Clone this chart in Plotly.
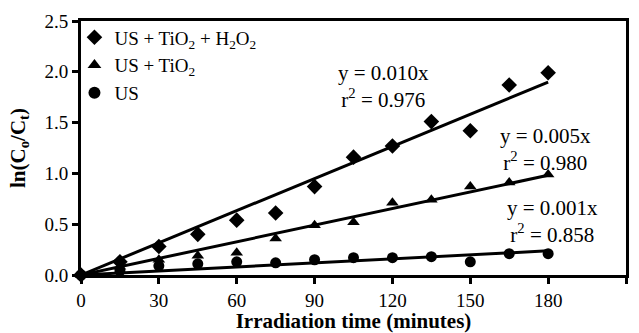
import numpy as np
import plotly.graph_objects as go

time_min = [0, 15, 30, 45, 60, 75, 90, 105, 120, 135, 150, 165, 180]
us_tio2_h2o2 = [0.0, 0.13, 0.28, 0.40, 0.54, 0.61, 0.87, 1.16, 1.27, 1.51, 1.42, 1.87, 1.99]
us_tio2 = [0.0, 0.08, 0.15, 0.19, 0.22, 0.36, 0.49, 0.52, 0.71, 0.74, 0.87, 0.91, 0.99]
us_only = [0.0, 0.04, 0.09, 0.11, 0.13, 0.12, 0.15, 0.17, 0.17, 0.18, 0.13, 0.21, 0.21]

names = ["US + TiO<sub>2</sub> + H<sub>2</sub>O<sub>2</sub>", "US + TiO<sub>2</sub>", "US"]
symbols = ["diamond", "triangle-up", "circle"]
series = [us_tio2_h2o2, us_tio2, us_only]
eq_labels = ["y = 0.010x<br>r<sup>2</sup> = 0.976",
             "y = 0.005x<br>r<sup>2</sup> = 0.980",
             "y = 0.001x<br>r<sup>2</sup> = 0.858"]
label_pos = [(116.5, 1.86), (179, 1.24), (181.5, 0.53)]

FONT = "Liberation Serif"
fig = go.Figure()
x = np.array(time_min, dtype=float)
for name, sym, ys in zip(names, symbols, series):
    y = np.array(ys)
    k = (x * y).sum() / (x * x).sum()
    fig.add_trace(go.Scatter(x=[0, 180], y=[0, k * 180], mode="lines",
                             line=dict(color="black", width=3), showlegend=False,
                             cliponaxis=False))
    fig.add_trace(go.Scatter(x=time_min, y=ys, mode="markers", name=name,
                             marker=dict(symbol=sym, size=11 if sym != "diamond" else 12, color="black"),
                             cliponaxis=False))

for txt, (ax, ay) in zip(eq_labels, label_pos):
    fig.add_annotation(x=ax, y=ay, text=txt, showarrow=False,
                       font=dict(family=FONT, size=21, color="black"), align="center")

axis_common = dict(showline=True, linecolor="black", linewidth=3, mirror=True,
                   ticks="outside", tickcolor="black", tickwidth=2.5, ticklen=6,
                   showgrid=False, zeroline=False, automargin=False,
                   tickfont=dict(family=FONT, size=19, color="black"))
fig.update_xaxes(range=[0, 210], tickvals=list(range(0, 211, 30)),
                 title=dict(text="<b>Irradiation time (minutes)</b>",
                            font=dict(family=FONT, size=21, color="black"), standoff=2),
                 **axis_common)
fig.update_yaxes(range=[0, 2.5], tickvals=[0, 0.5, 1.0, 1.5, 2.0, 2.5], tickformat=".1f",
                 title=dict(text="<b>ln(C<sub>o</sub>/C<sub>t</sub>)</b>",
                            font=dict(family=FONT, size=21, color="black"), standoff=14),
                 **axis_common)
fig.update_layout(width=639, height=333, margin=dict(l=81, r=13, t=21, b=58),
                  plot_bgcolor="white", paper_bgcolor="white",
                  legend=dict(x=-0.012, y=1.01, xanchor="left", yanchor="top",
                              bgcolor="rgba(0,0,0,0)", tracegroupgap=0,
                              itemsizing="constant", itemwidth=30,
                              font=dict(family=FONT, size=19, color="black")))
fig.write_html("out.html")
